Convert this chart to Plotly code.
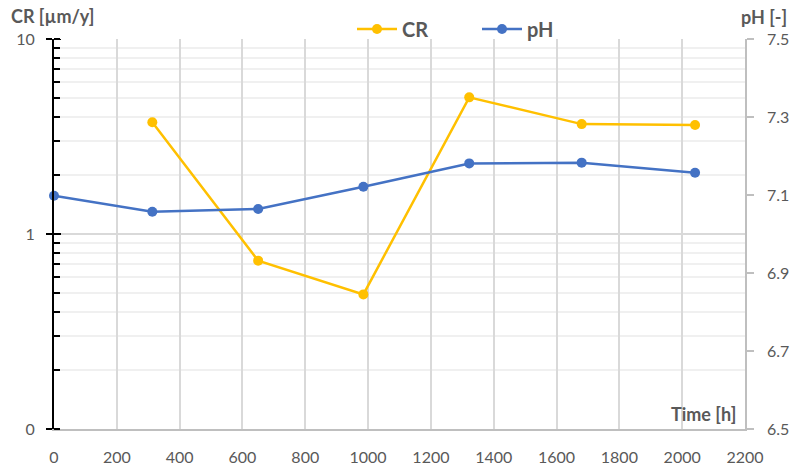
import plotly.graph_objects as go

# Measurement times [h] and values
time_cr = [313, 650, 985, 1322, 1680, 2041]
cr_values = [3.74, 0.73, 0.49, 5.02, 3.66, 3.62]

time_ph = [0, 313, 650, 985, 1322, 1680, 2041]
ph_values = [7.098, 7.057, 7.064, 7.121, 7.181, 7.183, 7.157]

x_ticks = list(range(0, 2201, 200))
cr_tickvals = [0.1, 1, 10]
cr_ticktext = ["0", "1", "10"]
ph_ticks = [6.5, 6.7, 6.9, 7.1, 7.3, 7.5]

CR_COLOR = "#FFC000"
PH_COLOR = "#4472C4"
TEXT = "#595959"
FONT = "Lato, Calibri, Carlito, sans-serif"

W, H = 794, 467
L, R, T, B = 54, 49, 39, 38
PW, PH = W - L - R, H - T - B


def px_x(px):
    return (px - L) / PW


def px_y(py):
    return (H - B - py) / PH


fig = go.Figure()

fig.add_trace(go.Scatter(
    x=time_cr, y=cr_values, name="CR", mode="lines+markers",
    line=dict(color=CR_COLOR, width=2.5),
    marker=dict(color=CR_COLOR, size=10),
    yaxis="y", cliponaxis=False, showlegend=False,
))
fig.add_trace(go.Scatter(
    x=time_ph, y=ph_values, name="pH", mode="lines+markers",
    line=dict(color=PH_COLOR, width=2.5),
    marker=dict(color=PH_COLOR, size=10),
    yaxis="y2", cliponaxis=False, showlegend=False,
))

fig.update_layout(
    width=W, height=H,
    margin=dict(l=L, r=R, t=T, b=B),
    paper_bgcolor="white", plot_bgcolor="white",
    font=dict(family=FONT, color=TEXT, size=16),
    showlegend=False,
    xaxis=dict(
        range=[0, 2200], tickvals=x_ticks, showgrid=True,
        gridcolor="#d9d9d9", gridwidth=1.5,
        showline=True, linecolor="#bfbfbf", linewidth=1.5,
        ticks="", zeroline=False, ticklabelstandoff=13, automargin=False,
        tickfont=dict(size=16, color=TEXT),
    ),
    yaxis=dict(
        type="log", range=[-1, 1],
        tickvals=cr_tickvals, ticktext=cr_ticktext,
        showgrid=True, gridcolor="#d9d9d9", gridwidth=1.5,
        showline=True, linecolor="black", linewidth=2,
        ticks="outside", ticklen=6, tickcolor="black", tickwidth=2,
        minor=dict(dtick="D1", ticks="inside", ticklen=6, tickcolor="black",
                   tickwidth=2, showgrid=True, gridcolor="#f0f0f0", gridwidth=1.5),
        zeroline=False, ticklabelstandoff=8, automargin=False,
        tickfont=dict(size=16, color=TEXT),
    ),
    yaxis2=dict(
        range=[6.5, 7.5], tickvals=ph_ticks, tickformat=".1f",
        overlaying="y", side="right", showgrid=False,
        showline=True, linecolor="#bfbfbf", linewidth=1.5,
        ticks="outside", ticklen=7, tickcolor="#bfbfbf", tickwidth=1.5,
        zeroline=False, ticklabelstandoff=10, automargin=False,
        tickfont=dict(size=16, color=TEXT),
    ),
)

# inner halves of the crossing major ticks on the log axis
for v in [1, 10]:
    fig.add_shape(type="line", xref="x", yref="y", xsizemode="pixel",
                  xanchor=0, x0=0, x1=7, y0=v, y1=v,
                  line=dict(color="black", width=2))

# legend: line + marker + label for each series
legend_items = [("CR", CR_COLOR, 357), ("pH", PH_COLOR, 482)]
legend_y = 29
for label, color, x_start in legend_items:
    fig.add_shape(type="line", xref="paper", yref="paper",
                  x0=px_x(x_start), x1=px_x(x_start + 40),
                  y0=px_y(legend_y), y1=px_y(legend_y),
                  line=dict(color=color, width=2.5))
    fig.add_shape(type="circle", xref="paper", yref="paper",
                  xsizemode="pixel", ysizemode="pixel",
                  xanchor=px_x(x_start + 20), yanchor=px_y(legend_y),
                  x0=-5, x1=5, y0=-5, y1=5,
                  line=dict(color=color, width=0), fillcolor=color)
    fig.add_annotation(text=f"<b>{label}</b>", xref="paper", yref="paper",
                       x=px_x(x_start + 43), y=px_y(legend_y),
                       xanchor="left", yanchor="middle", showarrow=False,
                       font=dict(size=20, color=TEXT))

# axis titles
fig.add_annotation(text="<b>CR [µm/y]</b>", xref="paper", yref="paper",
                   x=px_x(9), y=px_y(16), xanchor="left", yanchor="middle",
                   showarrow=False, font=dict(size=18, color=TEXT))
fig.add_annotation(text="<b>pH [-]</b>", xref="paper", yref="paper",
                   x=px_x(789), y=px_y(17), xanchor="right", yanchor="middle",
                   showarrow=False, font=dict(size=18, color=TEXT))
fig.add_annotation(text="<b>Time [h]</b>", xref="paper", yref="paper",
                   x=px_x(738), y=px_y(414), xanchor="right", yanchor="middle",
                   showarrow=False, font=dict(size=18, color=TEXT))

fig.write_html("out.html")
